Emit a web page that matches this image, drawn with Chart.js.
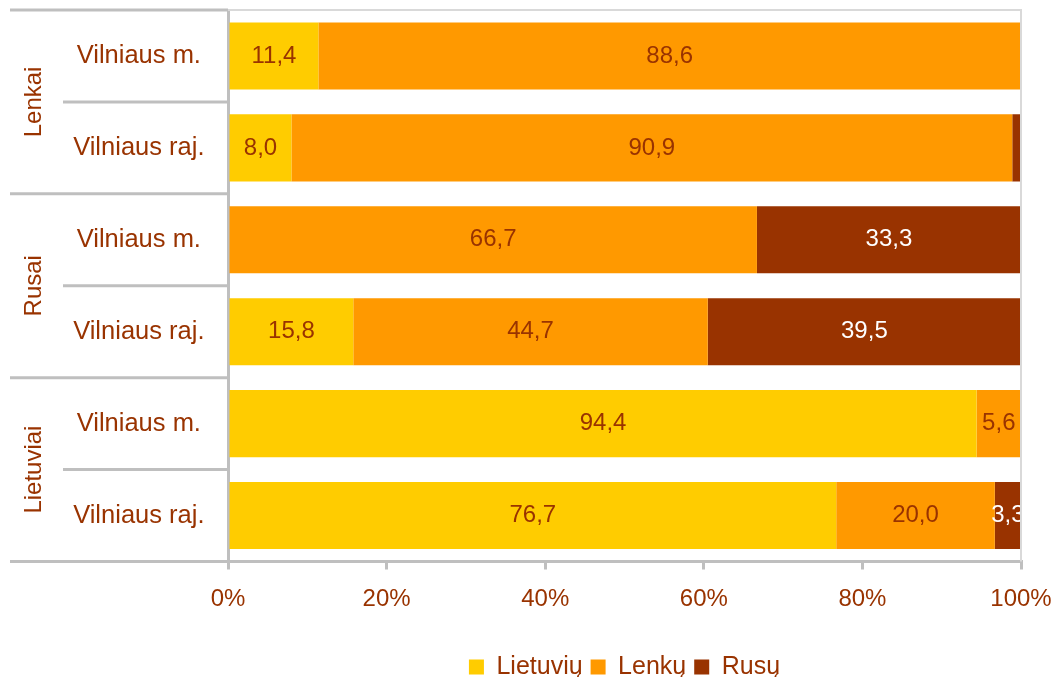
<!DOCTYPE html>
<html>
<head>
<meta charset="utf-8">
<script src="https://cdn.jsdelivr.net/npm/chart.js@4"></script>
<style>
    html, body { margin: 0; padding: 0; background: #fff; }
    #wrap { width: 1059px; height: 677px; }
</style>
</head>
<body>
<div id="wrap"><canvas id="chart"></canvas></div>
<script>
// Chart data
const groups = ['Lenkai', 'Rusai', 'Lietuviai'];
const rows = ['Vilniaus m.', 'Vilniaus raj.', 'Vilniaus m.', 'Vilniaus raj.', 'Vilniaus m.', 'Vilniaus raj.'];
const lietuviu = [11.4, 8.0, 0, 15.8, 94.4, 76.7];
const lenku = [88.6, 90.9, 66.7, 44.7, 5.6, 20.0];
const rusu = [0, 1.1, 33.3, 39.5, 0, 3.3];
const xTicks = [0, 20, 40, 60, 80, 100];

const brown = '#993300';
const lineGray = '#bfbfbf';
const font = 'Liberation Sans, Arial, sans-serif';

// Value labels in the middle of each segment
const valueLabels = {
    id: 'valueLabels',
    afterDatasetsDraw(chart) {
        const ctx = chart.ctx;
        ctx.save();
        ctx.font = '24px ' + font;
        ctx.textAlign = 'center';
        ctx.textBaseline = 'middle';
        chart.data.datasets.forEach(function(ds, di) {
            const meta = chart.getDatasetMeta(di);
            meta.data.forEach(function(bar, i) {
                const v = ds.data[i];
                if (v < 2) return;
                const x = (bar.x + bar.base) / 2;
                ctx.fillStyle = di === 2 ? '#ffffff' : brown;
                ctx.fillText(v.toFixed(1).replace('.', ','), x, bar.y);
            });
        });
        ctx.restore();
    }
};

// Group labels and separator lines on the left, thin frame top/right
const groupAxis = {
    id: 'groupAxis',
    afterDraw(chart) {
        const ctx = chart.ctx;
        const area = chart.chartArea;
        const y = chart.scales.y;
        const pitch = y.getPixelForValue(1) - y.getPixelForValue(0);
        ctx.save();
        ctx.strokeStyle = '#d9d9d9';
        ctx.lineWidth = 2;
        ctx.beginPath();
        ctx.moveTo(area.left, area.top);
        ctx.lineTo(area.right, area.top);
        ctx.lineTo(area.right, area.bottom);
        ctx.stroke();

        ctx.strokeStyle = lineGray;
        ctx.lineWidth = 3;
        for (let i = 0; i <= rows.length; i++) {
            const py = y.getPixelForValue(i) - pitch / 2;
            const x0 = i % 2 === 0 ? 10 : 63;
            ctx.beginPath();
            ctx.moveTo(x0, py);
            ctx.lineTo(area.left, py);
            ctx.stroke();
        }

        ctx.fillStyle = brown;
        ctx.font = '24px ' + font;
        ctx.textAlign = 'center';
        ctx.textBaseline = 'middle';
        groups.forEach(function(g, gi) {
            const cy = (y.getPixelForValue(gi * 2) + y.getPixelForValue(gi * 2 + 1)) / 2;
            ctx.save();
            ctx.translate(34, cy);
            ctx.rotate(-Math.PI / 2);
            ctx.fillText(g, 0, 0);
            ctx.restore();
        });
        ctx.restore();
    }
};

new Chart(document.getElementById('chart'), {
    type: 'bar',
    data: {
        labels: rows,
        datasets: [
            { label: 'Lietuvių', data: lietuviu, backgroundColor: '#ffcc00' },
            { label: 'Lenkų', data: lenku, backgroundColor: '#ff9900' },
            { label: 'Rusų', data: rusu, backgroundColor: '#993300' }
        ]
    },
    options: {
        indexAxis: 'y',
        responsive: true,
        maintainAspectRatio: false,
        animation: false,
        datasets: {
            bar: { categoryPercentage: 1, barPercentage: 0.73, borderWidth: 0 }
        },
        layout: { padding: { top: 10, right: 38, bottom: -12.5, left: 10 } },
        scales: {
            x: {
                stacked: true,
                min: 0,
                max: 100,
                afterBuildTicks: function(scale) {
                    scale.ticks = xTicks.map(function(v) { return { value: v }; });
                },
                afterFit: function(scale) {
                    scale.height = 85;
                    scale.paddingLeft = 0;
                    scale.paddingRight = 0;
                },
                grid: { drawOnChartArea: false, drawTicks: true, tickLength: 8, color: lineGray, lineWidth: 3 },
                border: { color: lineGray, width: 3 },
                ticks: {
                    color: brown,
                    font: { family: font, size: 24 },
                    padding: 15,
                    callback: function(v) { return v + '%'; }
                }
            },
            y: {
                stacked: true,
                afterFit: function(scale) {
                    scale.width = 218;
                    scale.paddingTop = 0;
                    scale.paddingBottom = 0;
                },
                grid: { display: false, drawTicks: false },
                border: { color: lineGray, width: 3 },
                ticks: {
                    color: brown,
                    font: { family: font, size: 25.5 },
                    crossAlign: 'center',
                    padding: 23.5
                }
            }
        },
        plugins: {
            legend: {
                position: 'bottom',
                fullSize: false,
                labels: {
                    color: brown,
                    font: { family: font, size: 25 },
                    boxWidth: 15,
                    boxHeight: 15,
                    padding: 8
                }
            },
            tooltip: { enabled: false }
        }
    },
    plugins: [valueLabels, groupAxis]
});
</script>
</body>
</html>
